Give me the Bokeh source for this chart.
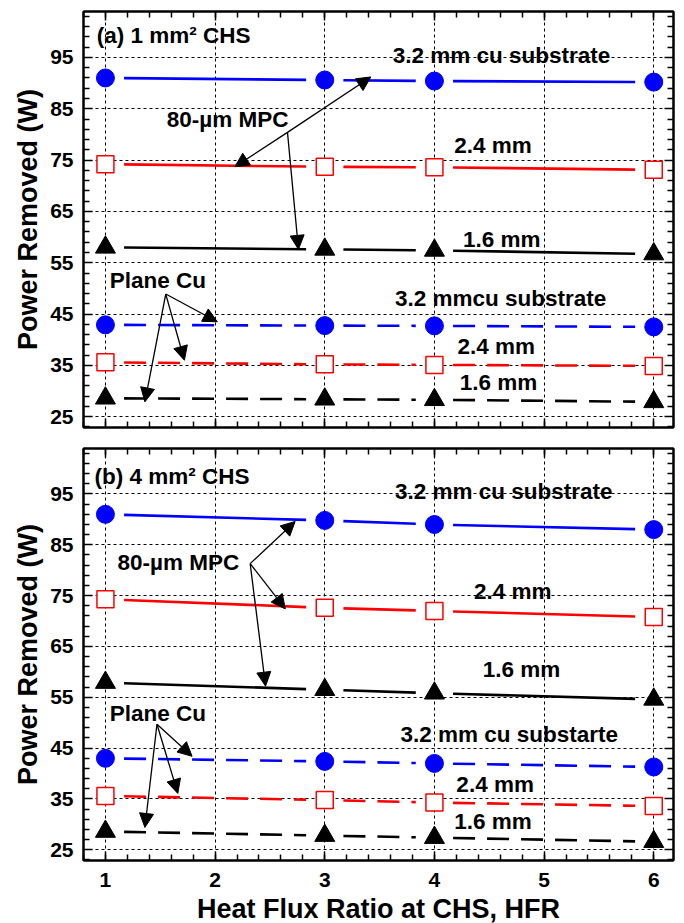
import numpy as np
from bokeh.plotting import figure
from bokeh.models import (ColumnDataSource, FixedTicker, LinearAxis, Range1d,
                          Arrow, NormalHead)
from bokeh.layouts import column
from bokeh.embed import file_html
from bokeh.resources import INLINE
from bokeh.core.properties import value

# ---------------- data ----------------
hfr = [1, 3, 4, 6]

# (a) 1 mm2 CHS
a_mpc_32 = [91.0, 90.6, 90.4, 90.2]
a_mpc_24 = [74.2, 73.7, 73.6, 73.1]
a_mpc_16 = [58.0, 57.6, 57.4, 56.7]
a_pl_32 = [42.9, 42.75, 42.7, 42.5]
a_pl_24 = [35.6, 35.2, 35.1, 34.9]
a_pl_16 = [28.6, 28.4, 28.3, 27.9]

# (b) 4 mm2 CHS
b_mpc_32 = [91.0, 89.8, 89.0, 88.0]
b_mpc_24 = [74.3, 72.6, 72.0, 70.8]
b_mpc_16 = [57.9, 56.5, 55.8, 54.6]
b_pl_32 = [43.0, 42.4, 42.0, 41.3]
b_pl_24 = [35.6, 34.8, 34.3, 33.6]
b_pl_16 = [28.6, 27.8, 27.4, 26.6]

y_ticks = [25, 35, 45, 55, 65, 75, 85, 95]
x_ticks = [1, 2, 3, 4, 5, 6]

# annotation texts (label, x, y)
a_text = ["(a) 1 mm\u00b2 CHS", "3.2 mm cu substrate", "80-\u00b5m MPC", "2.4 mm", "1.6 mm",
          "Plane Cu", "3.2 mmcu substrate", "2.4 mm", "1.6 mm"]
a_tx = [0.92, 3.62, 1.56, 4.18, 4.26, 1.04, 3.64, 4.21, 4.23]
a_ty = [99.2, 95.3, 83.0, 77.9, 59.6, 51.6, 48.0, 38.6, 31.6]

b_text = ["(b) 4 mm\u00b2 CHS", "3.2 mm cu substrate", "80-\u00b5m MPC", "2.4 mm", "1.6 mm",
          "Plane Cu", "3.2 mm cu substarte", "2.4 mm", "1.6 mm"]
b_tx = [0.90, 3.64, 1.11, 4.36, 4.44, 1.04, 3.69, 4.20, 4.18]
b_ty = [98.5, 95.5, 81.6, 75.9, 60.5, 51.8, 47.6, 37.8, 30.6]

# arrows (start -> end)
a_arr_x0 = [2.66, 2.66, 2.66, 1.55, 1.55, 1.55]
a_arr_y0 = [80.4, 80.4, 80.4, 48.9, 48.9, 48.9]
a_arr_x1 = [3.42, 2.18, 2.76, 2.02, 1.72, 1.36]
a_arr_y1 = [91.2, 73.7, 57.6, 43.5, 36.0, 27.9]

b_arr_x0 = [2.32, 2.32, 2.32, 1.47, 1.47, 1.47]
b_arr_y0 = [81.3, 81.3, 81.3, 49.7, 49.7, 49.7]
b_arr_x1 = [2.73, 2.64, 2.46, 1.79, 1.66, 1.36]
b_arr_y1 = [89.6, 72.4, 57.2, 43.4, 36.1, 29.4]

FONT = "Liberation Sans"
BLUE = "#0000ff"
RED = "#ff0000"
BLACK = "#000000"


def gapped_segments(p, xs, ys, color, dash, gap=0.17):
    x0, y0, x1, y1 = [], [], [], []
    for i in range(len(xs) - 1):
        xa, xb = xs[i], xs[i + 1]
        ya, yb = ys[i], ys[i + 1]
        s = (yb - ya) / (xb - xa)
        x0.append(xa + gap); y0.append(ya + s * gap)
        x1.append(xb - gap); y1.append(yb - s * gap)
    p.segment(x0=x0, y0=y0, x1=x1, y1=y1, line_color=color, line_width=2.6,
              line_dash=dash)


def hide_labels(ax):
    ax.major_label_text_font_size = "1px"
    ax.major_label_text_color = None
    ax.major_label_standoff = 0


def make_panel(series, texts, tx, ty, ax0, ay0, ax1, ay1, show_x, fh, top, bottom):
    p = figure(output_backend="svg", toolbar_location=None,
               frame_width=590, frame_height=fh,
               min_border_left=83, min_border_right=11,
               min_border_top=top, min_border_bottom=bottom,
               x_range=Range1d(0.8, 6.18), y_range=Range1d(22.9, 103.95),
               background_fill_color="white", border_fill_color="white")
    p.outline_line_color = "black"
    p.outline_line_width = 2
    p.outline_line_alpha = 1

    yt = FixedTicker(ticks=y_ticks, minor_ticks=[v for v in range(23, 104, 2) if v not in y_ticks])
    xt = FixedTicker(ticks=x_ticks, minor_ticks=[round(0.8 + 0.2 * i, 1) for i in range(28)])

    for ax in p.yaxis:
        ax.ticker = yt
    for ax in p.xaxis:
        ax.ticker = xt
    p.add_layout(LinearAxis(ticker=yt), "right")
    p.add_layout(LinearAxis(ticker=xt), "above")

    for ax in p.axis:
        ax.major_tick_in = 9
        ax.major_tick_out = 0
        ax.minor_tick_in = 6
        ax.minor_tick_out = 0
        ax.major_tick_line_width = 1.5
        ax.minor_tick_line_width = 1.5
        ax.major_tick_line_color = "black"
        ax.minor_tick_line_color = "black"
        ax.axis_line_width = 2
        ax.axis_line_color = "black"
        ax.major_label_text_font = FONT
        ax.major_label_text_font_style = "bold"
        ax.major_label_text_font_size = "21px"
        ax.major_label_text_color = "black"
        ax.axis_label_text_font = FONT
        ax.axis_label_text_font_style = "bold"
        ax.axis_label_text_font_size = "27px"
        ax.axis_label_text_color = "black"

    for ax in p.right + p.above:
        if isinstance(ax, LinearAxis):
            hide_labels(ax)

    p.yaxis[0].major_label_standoff = 10
    p.yaxis[0].axis_label = "Power Removed (W)"
    p.yaxis[0].axis_label_standoff = 4
    if show_x:
        p.below[0].major_label_standoff = 12
        p.below[0].axis_label = "Heat Flux Ratio at CHS, HFR"
        p.below[0].axis_label_standoff = 4
    else:
        hide_labels(p.below[0])

    for g in (p.xgrid, p.ygrid):
        g.grid_line_color = "black"
        g.grid_line_width = 1
        g.grid_line_dash = "3 3"
    p.xgrid.ticker = xt
    p.ygrid.ticker = yt

    for ys, color, marker, dash in series:
        gapped_segments(p, hfr, ys, color, dash)
        if marker == "circle":
            p.scatter(hfr, ys, marker="circle", size=18, fill_color=color, line_color=color)
        elif marker == "square":
            p.scatter(hfr, ys, marker="square", size=17, fill_color="white",
                      line_color=color, line_width=1.5)
        else:
            p.scatter(hfr, ys, marker="triangle", size=20, fill_color=color, line_color=color)

    src = ColumnDataSource(dict(x=tx, y=ty, t=texts))
    p.text(x="x", y="y", text="t", source=src, text_font=value(FONT),
           text_font_style="bold", text_font_size="22.5px", text_color="black",
           text_align="left", text_baseline="middle")

    asrc = ColumnDataSource(dict(x0=ax0, y0=ay0, x1=ax1, y1=ay1))
    p.add_layout(Arrow(end=NormalHead(size=14, fill_color="black", line_color="black"),
                       x_start="x0", y_start="y0", x_end="x1", y_end="y1",
                       source=asrc, line_color="black", line_width=1.3))
    return p


SOLID = "solid"
DASH = "22 12"

pa = make_panel([(a_mpc_32, BLUE, "circle", SOLID), (a_mpc_24, RED, "square", SOLID),
                 (a_mpc_16, BLACK, "triangle", SOLID), (a_pl_32, BLUE, "circle", DASH),
                 (a_pl_24, RED, "square", DASH), (a_pl_16, BLACK, "triangle", DASH)],
                a_text, a_tx, a_ty, a_arr_x0, a_arr_y0, a_arr_x1, a_arr_y1,
                False, 416, 11, 10)

pb = make_panel([(b_mpc_32, BLUE, "circle", SOLID), (b_mpc_24, RED, "square", SOLID),
                 (b_mpc_16, BLACK, "triangle", SOLID), (b_pl_32, BLUE, "circle", DASH),
                 (b_pl_24, RED, "square", DASH), (b_pl_16, BLACK, "triangle", DASH)],
                b_text, b_tx, b_ty, b_arr_x0, b_arr_y0, b_arr_x1, b_arr_y1,
                True, 412, 11, 63)

layout = column(pa, pb, spacing=0)
open("out.html", "w").write(file_html(layout, INLINE))
